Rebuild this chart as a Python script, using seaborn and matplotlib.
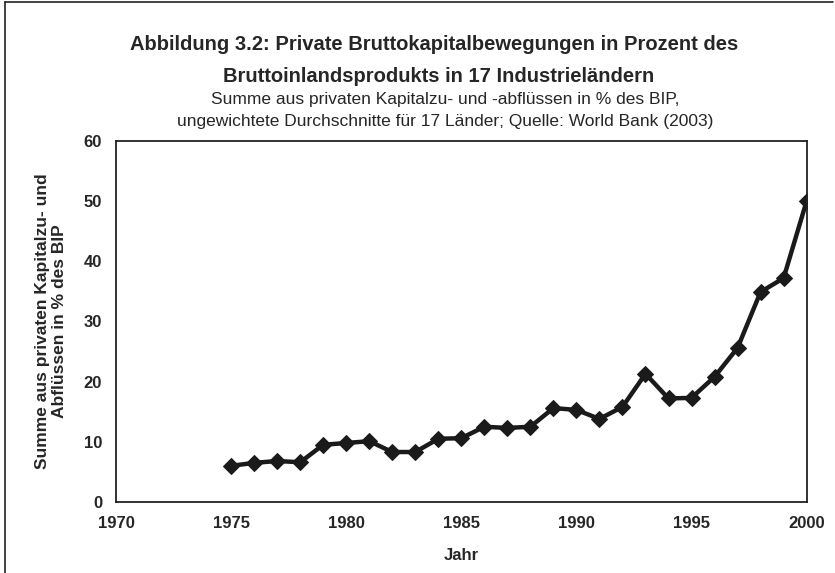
import pandas as pd
import matplotlib.pyplot as plt
import seaborn as sns
from matplotlib.lines import Line2D

years = list(range(1975, 2001))
values = [6.0, 6.5, 6.8, 6.6, 9.5, 9.8, 10.1, 8.3, 8.3, 10.5, 10.6, 12.5, 12.3,
          12.5, 15.6, 15.3, 13.8, 15.8, 21.3, 17.2, 17.3, 20.8, 25.6, 34.9, 37.2, 50.0]
x_ticks = [1970, 1975, 1980, 1985, 1990, 1995, 2000]
y_ticks = [0, 10, 20, 30, 40, 50, 60]


def main():
    data = pd.DataFrame({'Jahr': years, 'Wert': values})

    sns.set_style('white')
    plt.rcParams['font.family'] = ['Liberation Sans', 'DejaVu Sans']

    fig = plt.figure(figsize=(8.35, 5.73), dpi=100)
    ax = fig.add_axes([0.139, 0.124, 0.827, 0.630])
    sns.lineplot(x='Jahr', y='Wert', data=data, ax=ax, color='#1a1a1a',
                 linewidth=3.2, marker='D', markersize=8,
                 markeredgecolor='#1a1a1a', markerfacecolor='#1a1a1a')

    ax.set_xlim(1970, 2000)
    ax.set_ylim(0, 60)
    ax.set_xticks(x_ticks)
    ax.set_yticks(y_ticks)
    ax.tick_params(axis='both', labelsize=12, direction='out', length=4,
                   width=1, color='#222222', pad=6)
    for lab in ax.get_xticklabels() + ax.get_yticklabels():
        lab.set_fontweight('bold')
    for sp in ax.spines.values():
        sp.set_visible(True)
        sp.set_color('#222222')
        sp.set_linewidth(1.3)

    ax.set_xlabel('Jahr', fontsize=12, fontweight='bold', labelpad=12)
    ax.set_ylabel('Summe aus privaten Kapitalzu- und\nAbflüssen in % des BIP',
                  fontsize=12.5, fontweight='bold', labelpad=12)

    fig.text(0.52, 0.922, 'Abbildung 3.2: Private Bruttokapitalbewegungen in Prozent des',
             ha='center', va='center', fontsize=14.5, fontweight='bold')
    fig.text(0.525, 0.867, 'Bruttoinlandsprodukts in 17 Industrieländern',
             ha='center', va='center', fontsize=14.5, fontweight='bold')
    fig.text(0.533, 0.826, 'Summe aus privaten Kapitalzu- und -abflüssen in % des BIP,',
             ha='center', va='center', fontsize=12.5)
    fig.text(0.533, 0.788, 'ungewichtete Durchschnitte für 17 Länder; Quelle: World Bank (2003)',
             ha='center', va='center', fontsize=12.5)

    # outer frame (left and top)
    fig.add_artist(Line2D([0.006, 0.006], [0.0, 0.996], transform=fig.transFigure,
                          color='#222222', linewidth=1.2))
    fig.add_artist(Line2D([0.006, 0.998], [0.996, 0.996], transform=fig.transFigure,
                          color='#222222', linewidth=1.2))

    fig.savefig('out.png', dpi=100)


if __name__ == "__main__":
    main()
